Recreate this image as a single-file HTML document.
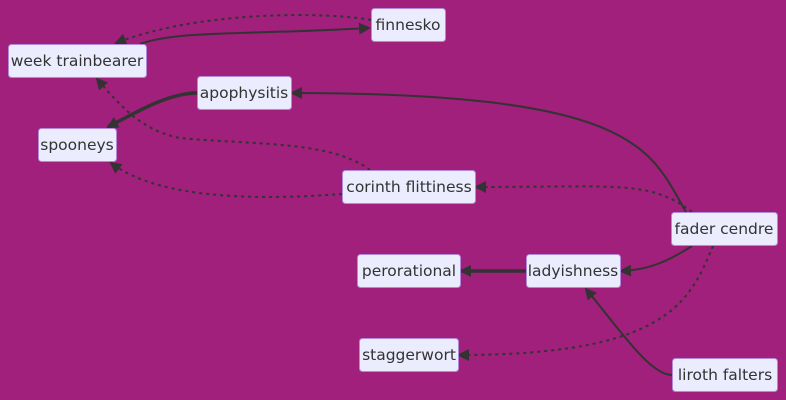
<!DOCTYPE html>
<html><head><meta charset="utf-8"><style>
html,body{margin:0;padding:0;background:#a0207b;}
svg{display:block}
text{font-family:"DejaVu Sans","Liberation Sans",sans-serif;font-size:15.5px;fill:#333;}
.n{fill:#ececff;stroke:#b08ad8;stroke-width:1}
.e{fill:none;stroke:#333;stroke-width:2}
.d{fill:none;stroke:#333;stroke-width:2;stroke-dasharray:3,4}
.t{fill:none;stroke:#333;stroke-width:3.5}
</style></head><body>
<svg width="786" height="400" viewBox="0 0 786 400">
<defs><marker id="a" markerWidth="12" markerHeight="12" refX="10" refY="6" orient="auto" markerUnits="userSpaceOnUse"><path d="M0,0 L12,6 L0,12z" fill="#333"/></marker></defs>
<rect width="786" height="400" fill="#a0207b"/>
<path class="d" d="M371,20 C330,12 200,10 116,43" marker-end="url(#a)"/>
<path class="e" d="M140,44 C180,30 250,35 369,28" marker-end="url(#a)"/>
<path class="t" d="M197,93 C170,93 140,110 108,127" marker-end="url(#a)"/>
<path class="e" d="M686,212 C650,150 640,93 292,93" marker-end="url(#a)"/>
<path class="d" d="M370,170 C330,140 250,145 180,138 C140,130 120,105 97,79" marker-end="url(#a)"/>
<path class="d" d="M342,194 C260,200 160,200 111,163" marker-end="url(#a)"/>
<path class="d" d="M692,212 C650,180 620,187 476,187" marker-end="url(#a)"/>
<path class="e" d="M692,246 C670,260 650,270 621,271" marker-end="url(#a)"/>
<path class="t" d="M526,271 L461,271" marker-end="url(#a)"/>
<path class="e" d="M672,375 C650,375 620,330 586,289" marker-end="url(#a)"/>
<path class="d" d="M713,246 C690,300 670,355 459,355" marker-end="url(#a)"/>
<rect class="n" x="8.5" y="44.5" width="138" height="33" rx="3"/><text x="77" y="66" text-anchor="middle">week trainbearer</text>
<rect class="n" x="371.5" y="8.5" width="74" height="33" rx="3"/><text x="408" y="30" text-anchor="middle">finnesko</text>
<rect class="n" x="197.5" y="76.5" width="94" height="33" rx="3"/><text x="244" y="98" text-anchor="middle">apophysitis</text>
<rect class="n" x="38.5" y="128.5" width="78" height="33" rx="3"/><text x="77" y="150" text-anchor="middle">spooneys</text>
<rect class="n" x="342.5" y="170.5" width="133" height="33" rx="3"/><text x="409" y="192" text-anchor="middle">corinth flittiness</text>
<rect class="n" x="671.5" y="212.5" width="106" height="33" rx="3"/><text x="724" y="234" text-anchor="middle">fader cendre</text>
<rect class="n" x="357.5" y="254.5" width="103" height="33" rx="3"/><text x="409" y="276" text-anchor="middle">perorational</text>
<rect class="n" x="526.5" y="254.5" width="94" height="33" rx="3"/><text x="573" y="276" text-anchor="middle">ladyishness</text>
<rect class="n" x="359.5" y="338.5" width="99" height="33" rx="3"/><text x="409" y="360" text-anchor="middle">staggerwort</text>
<rect class="n" x="672.5" y="358.5" width="105" height="33" rx="3"/><text x="725" y="380" text-anchor="middle">liroth falters</text>
</svg>
</body></html>
